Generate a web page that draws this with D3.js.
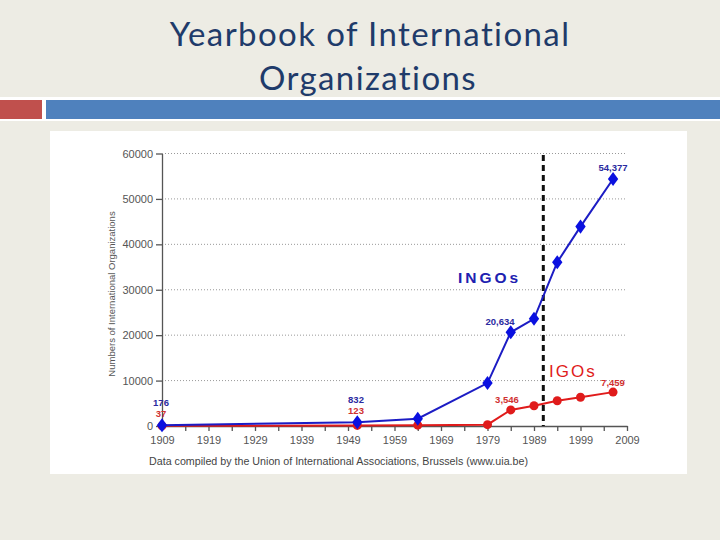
<!DOCTYPE html>
<html>
<head>
<meta charset="utf-8">
<script src="https://d3js.org/d3.v7.min.js"></script>
<style>
  body { margin: 0; background: #edece4; }
  svg text { font-family: "Liberation Sans", Arial, sans-serif; }
  .title { font-family: Lato, "Open Sans", sans-serif; fill: #1f3b6a; font-size: 33px; text-anchor: middle;
           letter-spacing: 1.4px; font-variant-ligatures: none; }
  .axis text { fill: #555; font-size: 11px; }
  .axis path, .axis line { stroke: #555; stroke-width: 1.3; }
</style>
</head>
<body>
<script>
// data
var years = [1909, 1951, 1964, 1979, 1984, 1989, 1994, 1999, 2006];
var ingos = [176, 832, 1600, 9450, 20634, 23600, 36060, 43900, 54377];
var igos = [37, 123, 179, 290, 3546, 4470, 5570, 6320, 7459];
var yTicks = [0, 10000, 20000, 30000, 40000, 50000, 60000];
var decadeTicks = [1909, 1919, 1929, 1939, 1949, 1959, 1969, 1979, 1989, 1999, 2009];
var cutYear = 1991;

var width = 720, height = 540;

var svg = d3.select("body").append("svg")
   .attr("width", width)
   .attr("height", height);

svg.append("rect").attr("width", width).attr("height", height).attr("fill", "#edece4");

// title
svg.append("text").attr("class", "title").attr("x", 370).attr("y", 46).text("Yearbook of International");
svg.append("text").attr("class", "title").attr("x", 368).attr("y", 90).text("Organizations");

// header bars
svg.append("rect").attr("x", 0).attr("y", 97).attr("width", 720).attr("height", 24).attr("fill", "#ffffff");
svg.append("rect").attr("x", 0).attr("y", 100).attr("width", 42).attr("height", 19).attr("fill", "#c0504d");
svg.append("rect").attr("x", 46).attr("y", 100).attr("width", 674).attr("height", 19).attr("fill", "#4f81bd");

// chart panel
svg.append("rect").attr("x", 50).attr("y", 131).attr("width", 637).attr("height", 343).attr("fill", "#ffffff");

var x = d3.scaleLinear().domain([1909, 2009]).range([162, 627]);
var y = d3.scaleLinear().domain([0, 60000]).range([426, 153.5]);

// gridlines
svg.append("g").selectAll("line")
   .data(yTicks.filter(function(d) { return d > 0; }))
   .enter().append("line")
   .attr("x1", x(1909)).attr("x2", x(2009))
   .attr("y1", function(d) { return y(d); })
   .attr("y2", function(d) { return y(d); })
   .attr("stroke", "#999")
   .attr("stroke-dasharray", "1,2");

// axes
var minor = d3.range(1909, 2010, 5);
svg.append("g").attr("class", "axis")
   .attr("transform", "translate(0," + y(0) + ")")
   .call(d3.axisBottom(x).tickValues(minor).tickSize(5).tickSizeOuter(0)
      .tickFormat(function(d) { return decadeTicks.indexOf(d) >= 0 ? d : ""; }))
   .selectAll("text").attr("dy", "0.9em");

svg.append("g").attr("class", "axis")
   .attr("transform", "translate(" + x(1909) + ",0)")
   .call(d3.axisLeft(y).tickValues(yTicks).tickSize(6).tickSizeOuter(0).tickFormat(function(d) { return d; }));

// y title
svg.append("text")
   .attr("transform", "translate(115,294) rotate(-90)")
   .attr("text-anchor", "middle")
   .attr("fill", "#555")
   .style("font-size", "9.5px")
   .text("Numbers of International Organizations");

// caption
svg.append("text")
   .attr("x", 149).attr("y", 465)
   .attr("fill", "#444")
   .style("font-size", "10.7px")
   .text("Data compiled by the Union of International Associations, Brussels (www.uia.be)");

// cut line
svg.append("line")
   .attr("x1", x(cutYear)).attr("x2", x(cutYear))
   .attr("y1", 155).attr("y2", y(0))
   .attr("stroke", "#111").attr("stroke-width", 3).attr("stroke-dasharray", "6,4");

var line = d3.line().x(function(d) { return x(d[0]); }).y(function(d) { return y(d[1]); });

// IGOs
var igoPts = d3.zip(years, igos);
svg.append("path").attr("d", line(igoPts)).attr("fill", "none").attr("stroke", "#e01b1b").attr("stroke-width", 2);
svg.append("g").selectAll("circle").data(igoPts).enter().append("circle")
   .attr("cx", function(d) { return x(d[0]); })
   .attr("cy", function(d) { return y(d[1]); })
   .attr("r", 4.5).attr("fill", "#e01b1b");

// INGOs
var ingoPts = d3.zip(years, ingos);
svg.append("path").attr("d", line(ingoPts)).attr("fill", "none").attr("stroke", "#1c1cc4").attr("stroke-width", 2);
svg.append("g").selectAll("path").data(ingoPts).enter().append("path")
   .attr("d", d3.symbol(d3.symbolDiamond, 70))
   .attr("transform", function(d) { return "translate(" + x(d[0]) + "," + y(d[1]) + ") scale(1.15,0.9)"; })
   .attr("fill", "#0a10e0");

// value labels
function label(txt, xx, yy, col) {
   svg.append("text").attr("x", xx).attr("y", yy)
      .attr("text-anchor", "middle").attr("fill", col)
      .style("font-size", "9.5px").style("font-weight", "bold")
      .text(txt);
}
label("176", 161, 406, "#2a2aa0");
label("37", 161, 417, "#d03030");
label("832", 356, 403, "#2a2aa0");
label("123", 356, 414, "#d03030");
label("20,634", 500, 325, "#2a2aa0");
label("54,377", 613, 171, "#2a2aa0");
label("3,546", 507, 403, "#d03030");
label("7,459", 613, 386, "#d03030");

// series names
svg.append("text").attr("x", 458).attr("y", 283)
   .attr("fill", "#2020b0").style("font-size", "15.5px").style("font-weight", "bold")
   .style("letter-spacing", "3px").text("INGOs");
svg.append("text").attr("x", 549).attr("y", 377)
   .attr("fill", "#e01b1b").style("font-size", "17px")
   .style("letter-spacing", "2px").text("IGOs");
</script>
</body>
</html>
